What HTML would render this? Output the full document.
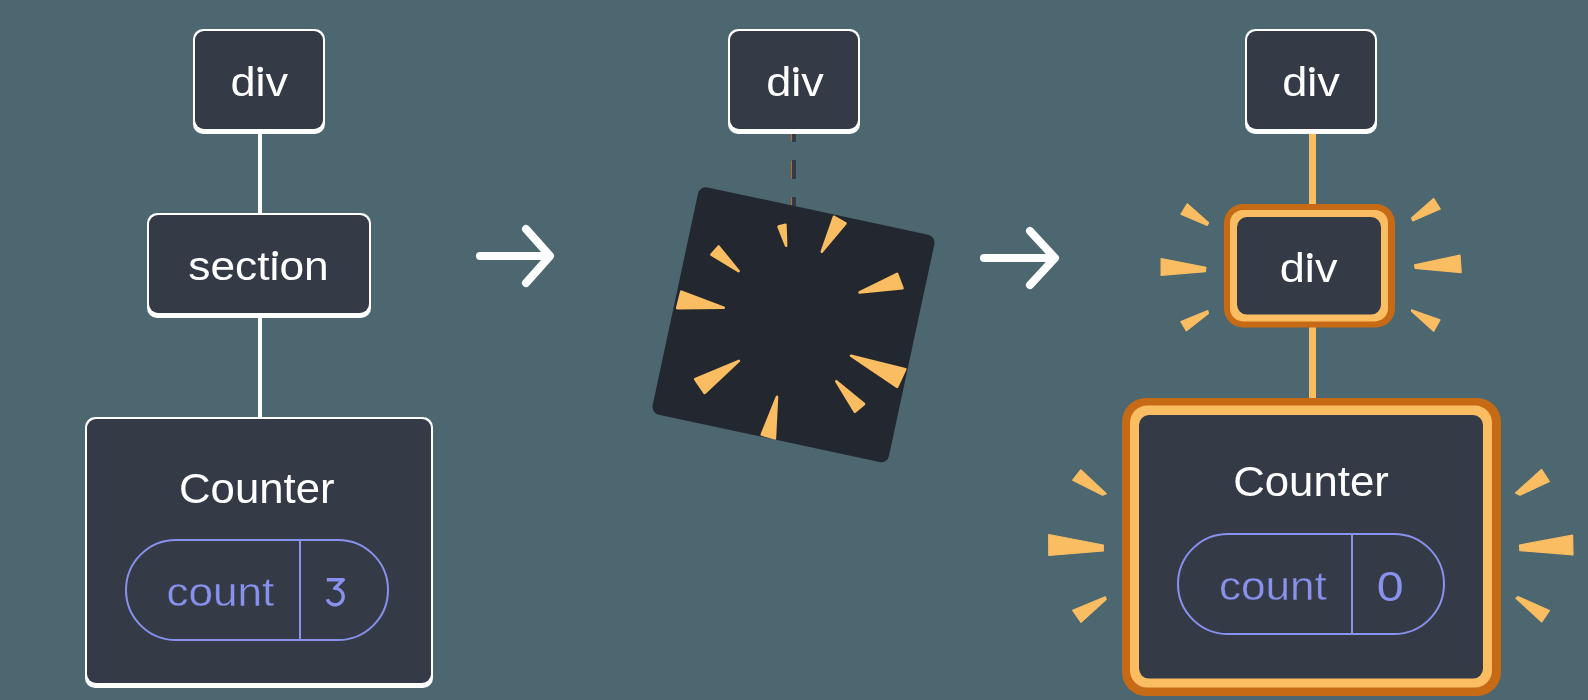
<!DOCTYPE html>
<html><head><meta charset="utf-8">
<style>
html,body{margin:0;padding:0;}
body{width:1588px;height:700px;overflow:hidden;background:#4C6770;}
svg{display:block;will-change:transform;}
text{font-family:"Liberation Sans",sans-serif;}
</style></head>
<body>
<svg width="1588" height="700" viewBox="0 0 1588 700">
<rect x="0" y="0" width="1588" height="700" fill="#4C6770"/>

<!-- LEFT TREE -->
<rect x="258" y="130" width="4" height="90" fill="#fff"/>
<rect x="258" y="314" width="4" height="108" fill="#fff"/>
<rect x="193" y="29" width="132" height="105" rx="10" fill="#fff"/>
<rect x="195" y="31" width="128" height="98" rx="9" fill="#343A46"/>
<text x="259.3" y="96" font-size="40" fill="#fff" text-anchor="middle" textLength="57.7" lengthAdjust="spacingAndGlyphs">div</text>

<rect x="147" y="213" width="224" height="105" rx="10" fill="#fff"/>
<rect x="149" y="215" width="220" height="98" rx="9" fill="#343A46"/>
<text x="258.5" y="280.3" font-size="40" fill="#fff" text-anchor="middle" textLength="140.4" lengthAdjust="spacingAndGlyphs">section</text>

<rect x="85" y="417" width="348" height="271" rx="10" fill="#fff"/>
<rect x="87" y="419" width="344" height="264" rx="9" fill="#343A46"/>
<text x="256.8" y="502.5" font-size="42" fill="#fff" text-anchor="middle" textLength="155.6" lengthAdjust="spacingAndGlyphs">Counter</text>
<rect x="126" y="540" width="262" height="100" rx="50" fill="none" stroke="#8891EC" stroke-width="2"/>
<rect x="299" y="540" width="2" height="100" fill="#8891EC"/>
<text x="220.4" y="605.9" font-size="40" fill="#8891EC" stroke="#343A46" stroke-width="0.4" text-anchor="middle" textLength="108" lengthAdjust="spacingAndGlyphs">count</text>
<path d="M326.8 579.75 H343.3 L334.6 588.4 A8.2 8.2 0 1 1 327.3 599.2" fill="none" stroke="#8891EC" stroke-width="3.4" stroke-linejoin="round"/>

<!-- ARROWS -->
<path d="M480 256 H549 M526 229 L550 256 L526 283" fill="none" stroke="#fff" stroke-width="8" stroke-linecap="round" stroke-linejoin="round"/>
<path d="M984 258 H1054 M1030 231 L1055 258 L1030 285" fill="none" stroke="#fff" stroke-width="8" stroke-linecap="round" stroke-linejoin="round"/>

<!-- MIDDLE -->
<line x1="794" y1="123" x2="794" y2="230" stroke="#343A46" stroke-width="4" stroke-dasharray="19 18"/>
<line x1="791.5" y1="124" x2="791.5" y2="230" stroke="#C76A15" stroke-width="1" stroke-dasharray="17 20"/>
<rect x="728" y="29" width="132" height="105" rx="10" fill="#fff"/>
<rect x="730" y="31" width="128" height="98" rx="9" fill="#343A46"/>
<text x="795" y="96" font-size="40" fill="#fff" text-anchor="middle" textLength="57.7" lengthAdjust="spacingAndGlyphs">div</text>

<g transform="translate(793.5 324.7) rotate(12.1)">
<rect x="-120.85" y="-116.25" width="241.7" height="232.5" rx="8" fill="#23272F"/>
</g>
<g fill="#FABD62" stroke="#FABD62" stroke-width="2.6" stroke-linejoin="round">
<polygon points="778.5,226.6 785.4,224.8 786.1,245.7"/>
<polygon points="834.0,216.8 845.5,223.3 821.8,251.7"/>
<polygon points="711.4,254.6 718.6,246.5 738.6,271.1"/>
<polygon points="681.3,291.7 677.2,308.1 723.7,307.8"/>
<polygon points="897.1,273.9 902.5,288.2 859.5,292.4"/>
<polygon points="738.9,360.9 695.1,379.1 704.6,393.0"/>
<polygon points="777.0,396.8 761.8,434.5 774.9,438.3"/>
<polygon points="836.3,381.3 864.1,403.9 854.9,411.7"/>
<polygon points="851.0,355.7 905.3,369.2 897.2,386.8"/>
</g>

<!-- RIGHT TREE -->

<rect x="1309" y="130" width="7" height="80" fill="#FABD62"/>
<rect x="1309" y="322" width="7" height="80" fill="#FABD62"/>
<rect x="1245" y="29" width="132" height="105" rx="10" fill="#fff"/>
<rect x="1247" y="31" width="128" height="98" rx="9" fill="#343A46"/>
<text x="1311" y="96" font-size="40" fill="#fff" text-anchor="middle" textLength="57.7" lengthAdjust="spacingAndGlyphs">div</text>

<rect x="1224" y="204" width="171" height="123.5" rx="19" fill="#C76A15"/>
<rect x="1230" y="210" width="158" height="111.4" rx="13" fill="#FABD62"/>
<rect x="1237" y="217" width="144" height="97.6" rx="10" fill="#343A46"/>
<text x="1308.6" y="282.4" font-size="40" fill="#fff" text-anchor="middle" textLength="57.7" lengthAdjust="spacingAndGlyphs">div</text>

<rect x="1122" y="398" width="379" height="298" rx="24" fill="#C76A15"/>
<rect x="1130" y="405.6" width="362" height="282" rx="17" fill="#FABD62"/>
<rect x="1139" y="415" width="344" height="263.6" rx="10" fill="#343A46"/>
<text x="1311" y="496.3" font-size="42" fill="#fff" text-anchor="middle" textLength="155.6" lengthAdjust="spacingAndGlyphs">Counter</text>
<rect x="1178" y="534" width="266" height="100" rx="50" fill="none" stroke="#8891EC" stroke-width="2"/>
<rect x="1351" y="534" width="2" height="100" fill="#8891EC"/>
<text x="1272.9" y="600.2" font-size="40" fill="#8891EC" stroke="#343A46" stroke-width="0.4" text-anchor="middle" textLength="108" lengthAdjust="spacingAndGlyphs">count</text>
<text x="1390.2" y="600.8" font-size="43" fill="#8891EC" text-anchor="middle" textLength="26.9" lengthAdjust="spacingAndGlyphs">0</text>

<g fill="#FABD62" stroke="#FABD62" stroke-width="1.2" stroke-linejoin="round">
<polygon points="1180.9,214.2 1187.2,203.8 1208.6,222.7 1207.2,225.5"/>
<polygon points="1161.1,258.5 1205.9,267.3 1205.4,271.7 1161.1,275.3"/>
<polygon points="1180.9,321.6 1207.8,310.6 1208.4,313.6 1186.4,330.9"/>
<polygon points="1411.6,218.0 1433.7,198.5 1440.3,209.0 1412.8,221.0"/>
<polygon points="1414.6,264.8 1460.0,255.2 1461.2,272.6 1415.1,268.4"/>
<polygon points="1411.6,309.7 1440.0,319.9 1433.7,331.2 1411.6,311.4"/>
<polygon points="1072.7,480.1 1080.7,469.8 1106.3,493.6 1102.5,495.3"/>
<polygon points="1048.7,534.5 1103.3,545.0 1103.3,550.9 1048.8,555.5"/>
<polygon points="1105.2,596.8 1106.3,599.2 1081.0,622.4 1072.7,610.3"/>
<polygon points="1515.5,492.9 1541.5,469.4 1549.4,481.5 1520.0,495.3"/>
<polygon points="1519.5,545.0 1572.6,535.2 1573.0,554.8 1519.9,550.6"/>
<polygon points="1518.0,596.5 1549.4,610.6 1541.8,622.0 1515.9,598.2"/>
</g>
<!-- i dots -->
<rect x="258" y="66" width="5" height="4" fill="#343A46"/><circle cx="260.2" cy="69.6" r="2.8" fill="#fff"/>
<rect x="794" y="66" width="5" height="4" fill="#343A46"/><circle cx="795.8" cy="69.8" r="2.8" fill="#fff"/>
<rect x="1310" y="66" width="5" height="4" fill="#343A46"/><circle cx="1311.9" cy="69.8" r="2.8" fill="#fff"/>
<rect x="1307" y="252" width="5" height="4" fill="#343A46"/><circle cx="1309.8" cy="255.9" r="2.8" fill="#fff"/>
<rect x="272" y="250" width="5" height="4" fill="#343A46"/><circle cx="275.2" cy="253.8" r="2.8" fill="#fff"/>
</svg>
</body></html>
